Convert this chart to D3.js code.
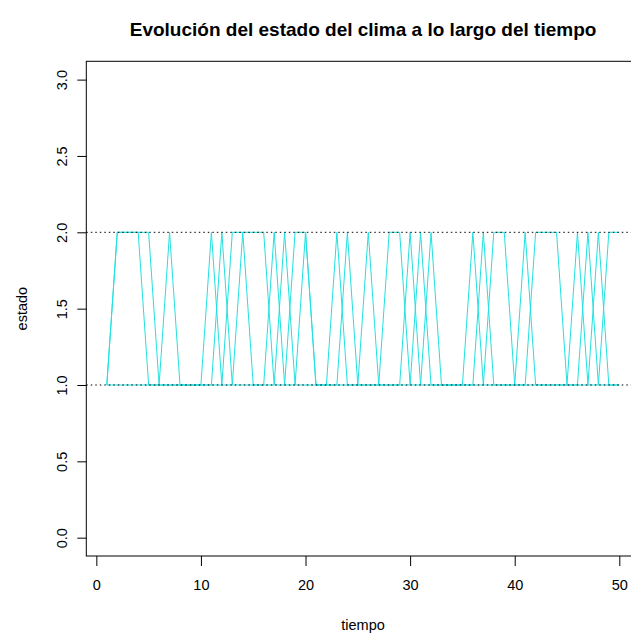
<!DOCTYPE html>
<html>
<head>
<meta charset="utf-8">
<script src="https://cdn.jsdelivr.net/npm/d3@7"></script>
<style>
  body { margin: 0; background: #fff; }
  svg { display: block; font-family: "Liberation Sans", Arial, Helvetica, sans-serif; }
</style>
</head>
<body>
<script>
// datos: la serie se dibuja contra tiempo repetido dos veces (como en R)
const tiempo = [1, 2, 3, 4, 5, 6, 7, 8, 9, 10, 11, 12, 13, 14, 15, 16, 17, 18, 19, 20,
  21, 22, 23, 24, 25, 26, 27, 28, 29, 30, 31, 32, 33, 34, 35, 36, 37, 38, 39, 40,
  41, 42, 43, 44, 45, 46, 47, 48, 49, 50];
const estado1 = [1, 2, 2, 2, 2, 1, 2, 1, 1, 1, 2, 1, 2, 2, 2, 2, 1, 2, 1, 2,
  1, 1, 2, 1, 1, 2, 1, 2, 2, 1, 2, 1, 1, 1, 1, 2, 1, 2, 2, 1,
  2, 1, 1, 1, 1, 2, 1, 2, 1, 1];
const estado2 = [1, 2, 2, 2, 1, 1, 1, 1, 1, 1, 1, 2, 1, 2, 1, 1, 2, 1, 2, 2,
  1, 1, 1, 2, 1, 1, 1, 1, 1, 2, 1, 2, 1, 1, 1, 1, 2, 1, 1, 1,
  1, 2, 2, 2, 1, 1, 2, 1, 2, 2];
const xTicks = [0, 10, 20, 30, 40, 50];
const yTicks = [0, 0.5, 1, 1.5, 2, 2.5, 3];
const niveles = [1, 2];

const width = 631;
const height = 635;
const mLeft = 86.3, mRight = 639.8, mTop = 61.3, mBottom = 556;

const svg = d3.select("body").append("svg")
  .attr("width", width)
  .attr("height", height);

// escalas (rango extendido 4% como en R)
const xScale = d3.scaleLinear().domain([-0.96, 51.96]).range([mLeft, mRight]);
const yScale = d3.scaleLinear().domain([-0.12, 3.12]).range([mBottom, mTop]);

// linea de estados
const puntos = tiempo.map((t, i) => [t, estado1[i]])
  .concat(tiempo.map((t, i) => [t, estado2[i]]));
const line = d3.line().x(d => xScale(d[0])).y(d => yScale(d[1]));

svg.append("path")
  .datum(puntos)
  .attr("d", line)
  .attr("fill", "none")
  .attr("stroke", "#22e0e0")
  .attr("stroke-width", 1);

// lineas punteadas horizontales
svg.selectAll(".nivel")
  .data(niveles)
  .enter()
  .append("line")
  .attr("class", "nivel")
  .attr("x1", mLeft)
  .attr("x2", mRight)
  .attr("y1", d => yScale(d))
  .attr("y2", d => yScale(d))
  .attr("stroke", "#000")
  .attr("stroke-width", 1)
  .attr("stroke-dasharray", "1.5,3");

// marco
svg.append("rect")
  .attr("x", mLeft)
  .attr("y", mTop)
  .attr("width", mRight - mLeft)
  .attr("height", mBottom - mTop)
  .attr("fill", "none")
  .attr("stroke", "#000")
  .attr("stroke-width", 1);

// ejes
const xAxis = svg.append("g")
  .attr("transform", "translate(0," + mBottom + ")")
  .call(d3.axisBottom(xScale).tickValues(xTicks).tickSize(10).tickPadding(14).tickFormat(d3.format("d")));
xAxis.select(".domain").remove();
xAxis.selectAll("line").attr("stroke", "#000");
xAxis.selectAll("text")
  .attr("font-size", 14.5)
  .attr("font-family", "Liberation Sans, Arial, sans-serif")
  .attr("fill", "#000");

const yAxis = svg.append("g")
  .attr("transform", "translate(" + mLeft + ",0)")
  .call(d3.axisLeft(yScale).tickValues(yTicks).tickSize(9).tickFormat(d3.format(".1f")));
yAxis.select(".domain").remove();
yAxis.selectAll("line").attr("stroke", "#000");
yAxis.selectAll("text")
  .attr("font-size", 14.5)
  .attr("font-family", "Liberation Sans, Arial, sans-serif")
  .attr("fill", "#000")
  .attr("x", null)
  .attr("dy", null)
  .attr("text-anchor", "middle")
  .attr("transform", "translate(-24,0) rotate(-90)")
  .attr("dominant-baseline", "central");

// textos
svg.append("text")
  .attr("x", (mLeft + mRight) / 2)
  .attr("y", 36)
  .attr("text-anchor", "middle")
  .attr("font-size", 19)
  .attr("font-weight", "bold")
  .text("Evolución del estado del clima a lo largo del tiempo");

svg.append("text")
  .attr("x", (mLeft + mRight) / 2)
  .attr("y", 630)
  .attr("text-anchor", "middle")
  .attr("font-size", 14.5)
  .text("tiempo");

svg.append("text")
  .attr("transform", "translate(27," + (mTop + mBottom) / 2 + ") rotate(-90)")
  .attr("text-anchor", "middle")
  .attr("font-size", 14.5)
  .text("estado");
</script>
</body>
</html>
